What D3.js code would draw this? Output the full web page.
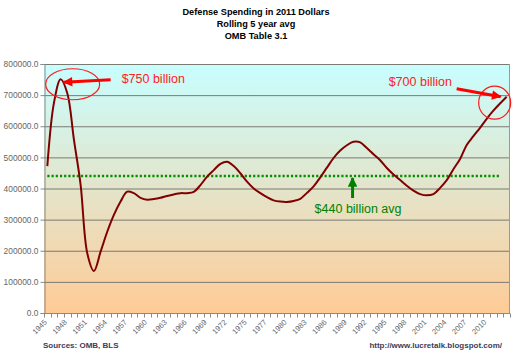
<!DOCTYPE html>
<html>
<head>
<meta charset="utf-8">
<script src="https://cdn.jsdelivr.net/npm/d3@7"></script>
<style>
  body { margin: 0; background: #fff; }
  svg text { font-family: "Liberation Sans", Arial, sans-serif; }
</style>
</head>
<body>
<div class="chart"></div>
<script>

// fiscal years on the category axis (OMB has a transition quarter after 1976)
var years = d3.range(1945, 1977).map(String)
	.concat(["TQ"])
	.concat(d3.range(1977, 2014).map(String));

// labelled categories on the x axis
var xTickLabels = ["1945", "1948", "1951", "1954", "1957", "1960", "1963", "1966", "1969",
	"1972", "1975", "1977", "1980", "1983", "1986", "1989", "1992", "1995", "1998",
	"2001", "2004", "2007", "2010"];

// rolling 5 year avg, 2011 dollars (millions)
var spending = [
	472000, 676000, 751000, 706000, 556000, 412000, 192000, 135000, 197000, 261000,
	315000, 358000, 390000, 385000, 370000, 364000, 366000, 370000, 376000, 381000,
	385000, 385000, 389000, 411000, 438000, 459000, 479000, 486000, 472000, 449000,
	422000, 400000, 385000, 372000, 362000, 358000, 357000, 360000, 367000, 386000,
	407000, 436000, 467000, 498000, 522000, 539000, 550000, 548000, 530000, 510000,
	491000, 466000, 445000, 427000, 409000, 393000, 382000, 378000, 382000, 402000,
	427000, 462000, 495000, 540000, 568000, 595000, 624000, 650000, 673000, 695000
];

var average = 440000;
var avgRange = ["1945", "2012"];

var yTicks = [0, 100000, 200000, 300000, 400000, 500000, 600000, 700000, 800000];

var titleLines = ["Defense Spending in 2011 Dollars", "Rolling 5 year avg", "OMB Table 3.1"];

// annotation anchors (data space)
var peakNote = { year: "1947", value: 751000, text: "$750 billion" };
var endNote = { year: "2013", value: 695000, text: "$700 billion" };
var avgNote = { year: "1990", value: average, text: "$440 billion avg" };

/* ********* layout ********* */

var W = 512, H = 351;
var margin = {top: 64, right: 2, bottom: 38, left: 44};
var width = W - margin.left - margin.right,
	height = H - margin.top - margin.bottom;

var svg = d3.select(".chart")
	.append("svg")
	.attr("width", W)
	.attr("height", H);

var defs = svg.append("defs");

var grad = defs.append("linearGradient")
	.attr("id", "bg")
	.attr("x1", 0).attr("y1", 0)
	.attr("x2", 0).attr("y2", 1);
grad.append("stop").attr("offset", "0%").attr("stop-color", "#c8feff");
grad.append("stop").attr("offset", "100%").attr("stop-color", "#ffcb96");

function arrowHead(id, color) {
	defs.append("marker")
		.attr("id", id)
		.attr("viewBox", "0 0 10 10")
		.attr("refX", 9)
		.attr("refY", 5)
		.attr("markerWidth", 3.6)
		.attr("markerHeight", 3.2)
		.attr("markerUnits", "strokeWidth")
		.attr("orient", "auto")
		.append("path")
		.attr("d", "M0,0 L10,5 L0,10 Z")
		.attr("fill", color);
}
arrowHead("redHead", "#ff0000");
arrowHead("greenHead", "#008000");

var g = svg.append("g")
	.attr("transform", "translate(" + margin.left + "," + margin.top + ")");

// category axis: points sit in the middle of each band
var xBand = d3.scaleBand()
	.domain(years)
	.range([0, width]);

var x = function(yr) { return xBand(yr) + xBand.bandwidth() / 2; };

var y = d3.scaleLinear()
	.domain([0, 800000])
	.range([height, 0]);

// plot background
g.append("rect")
	.attr("width", width)
	.attr("height", height)
	.attr("fill", "url(#bg)");

// gridlines
g.append("g")
	.selectAll("line")
	.data(yTicks.slice(1))
	.join("line")
	.attr("x1", 0)
	.attr("x2", width)
	.attr("y1", d => y(d) + 0.5)
	.attr("y2", d => y(d) + 0.5)
	.attr("stroke", "#7a7a72")
	.attr("stroke-width", 1);

// right border
g.append("line")
	.attr("x1", width - 0.5).attr("x2", width - 0.5)
	.attr("y1", 0).attr("y2", height)
	.attr("stroke", "#9a9a9a");

// y axis
var yAxis = g.append("g")
	.attr("transform", "translate(0.5,0)")
	.call(d3.axisLeft(y).tickValues(yTicks).tickSize(4).tickFormat(d3.format(".1f")));
yAxis.select(".domain").attr("stroke", "#8a8a8a");
yAxis.selectAll(".tick line").attr("stroke", "#8a8a8a");
yAxis.selectAll("text")
	.attr("fill", "#666")
	.style("font-size", "8.4px")
	.attr("x", -6);

// x axis: tick marks between categories, labels every 3rd category
var xAxis = g.append("g")
	.attr("transform", "translate(0," + (height + 0.5) + ")");

xAxis.append("line")
	.attr("x1", 0).attr("x2", width)
	.attr("stroke", "#8a8a8a");

var boundaries = years.map(d => xBand(d)).concat([width]);

xAxis.selectAll("line.tick")
	.data(boundaries)
	.join("line")
	.attr("class", "tick")
	.attr("x1", d => Math.round(d) + 0.5)
	.attr("x2", d => Math.round(d) + 0.5)
	.attr("y1", 0)
	.attr("y2", 4)
	.attr("stroke", "#8a8a8a");

xAxis.selectAll("text")
	.data(xTickLabels)
	.join("text")
	.attr("transform", d => "translate(" + (x(d) - 3) + ",6) rotate(-45)")
	.attr("text-anchor", "end")
	.attr("dy", "0.6em")
	.attr("fill", "#666")
	.style("font-size", "7.6px")
	.text(d => d);

// average line
g.append("line")
	.attr("x1", x(avgRange[0]))
	.attr("x2", x(avgRange[1]))
	.attr("y1", y(average))
	.attr("y2", y(average))
	.attr("stroke", "#009000")
	.attr("stroke-width", 2.4)
	.attr("stroke-dasharray", "2.2,2");

// spending line
var line = d3.line()
	.x((d, i) => x(years[i]))
	.y(d => y(d))
	.curve(d3.curveCatmullRom.alpha(0.5));

g.append("path")
	.datum(spending)
	.attr("d", line)
	.attr("fill", "none")
	.attr("stroke", "#800000")
	.attr("stroke-width", 2);

/* ********* annotations ********* */

// peak
g.append("ellipse")
	.attr("cx", x(peakNote.year) + 12)
	.attr("cy", y(peakNote.value) + 5)
	.attr("rx", 27)
	.attr("ry", 15.5)
	.attr("fill", "none")
	.attr("stroke", "#ff1a1a")
	.attr("stroke-width", 1.2);

g.append("line")
	.attr("x1", x(peakNote.year) + 50)
	.attr("y1", y(peakNote.value) + 0.5)
	.attr("x2", x(peakNote.year) + 3)
	.attr("y2", y(peakNote.value) + 3)
	.attr("stroke", "#ff0000")
	.attr("stroke-width", 3)
	.attr("marker-end", "url(#redHead)");

g.append("text")
	.attr("x", x(peakNote.year) + 61)
	.attr("y", y(peakNote.value) + 4)
	.attr("fill", "#ff2020")
	.style("font-size", "12.5px")
	.text(peakNote.text);

// end
g.append("ellipse")
	.attr("cx", x(endNote.year) - 12)
	.attr("cy", y(endNote.value) + 6)
	.attr("rx", 16)
	.attr("ry", 16.5)
	.attr("fill", "none")
	.attr("stroke", "#ff1a1a")
	.attr("stroke-width", 1.2);

g.append("line")
	.attr("x1", x(endNote.year) - 50)
	.attr("y1", y(endNote.value) - 8)
	.attr("x2", x(endNote.year) - 6)
	.attr("y2", y(endNote.value) + 0)
	.attr("stroke", "#ff0000")
	.attr("stroke-width", 3)
	.attr("marker-end", "url(#redHead)");

g.append("text")
	.attr("x", x(endNote.year) - 118)
	.attr("y", y(endNote.value) - 11)
	.attr("fill", "#ff2020")
	.style("font-size", "12.5px")
	.text(endNote.text);

// average
g.append("line")
	.attr("x1", x(avgNote.year) - 1)
	.attr("y1", y(avgNote.value) + 22)
	.attr("x2", x(avgNote.year) - 1)
	.attr("y2", y(avgNote.value) + 2)
	.attr("stroke", "#008000")
	.attr("stroke-width", 3)
	.attr("marker-end", "url(#greenHead)");

g.append("text")
	.attr("x", x(avgNote.year) + 4.5)
	.attr("y", y(avgNote.value) + 37)
	.attr("text-anchor", "middle")
	.attr("fill", "#008000")
	.style("font-size", "12.5px")
	.text(avgNote.text);

/* ********* titles and footer ********* */

svg.append("g")
	.selectAll("text")
	.data(titleLines)
	.join("text")
	.attr("x", 256)
	.attr("y", (d, i) => 15 + i * 12)
	.attr("text-anchor", "middle")
	.style("font-size", "9.2px")
	.style("font-weight", "bold")
	.attr("fill", "#000")
	.text(d => d);

svg.append("text")
	.attr("x", 43)
	.attr("y", 348)
	.style("font-size", "8px")
	.style("font-weight", "bold")
	.attr("fill", "#3c3c5a")
	.text("Sources: OMB, BLS");

svg.append("text")
	.attr("x", 502)
	.attr("y", 348)
	.attr("text-anchor", "end")
	.style("font-size", "8px")
	.style("font-weight", "bold")
	.attr("fill", "#3c3c5a")
	.text("http://www.lucretalk.blogspot.com/");

</script>
</body>
</html>
